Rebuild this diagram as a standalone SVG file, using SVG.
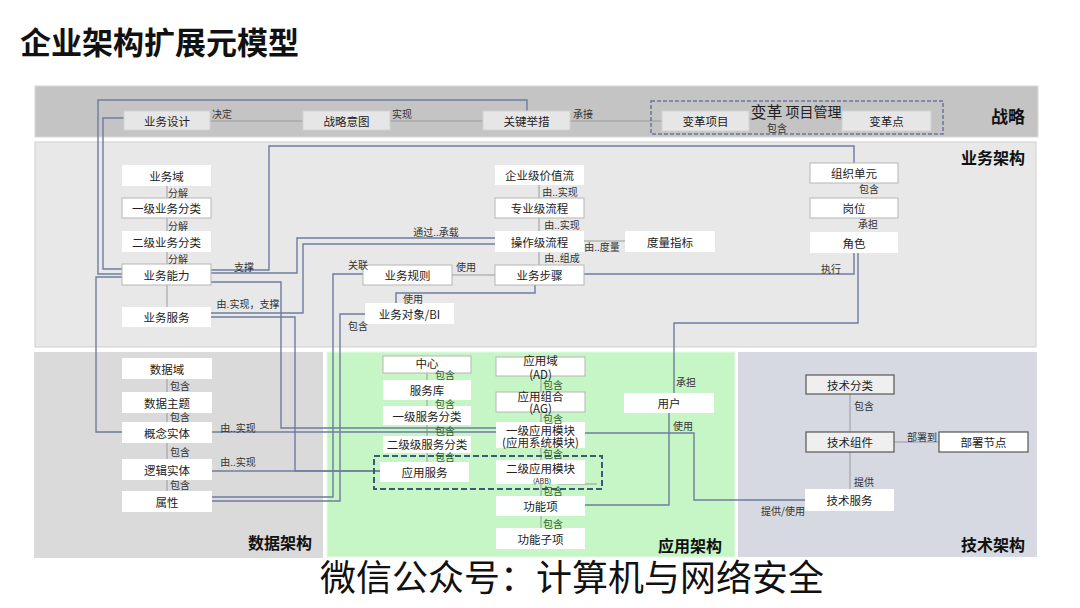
<svg xmlns="http://www.w3.org/2000/svg" width="1080" height="608" viewBox="0 0 1080 608">
<style>
text{font-family:"Noto Sans CJK SC","Noto Sans",sans-serif;fill:#222}
.t{font-size:11.5px;text-anchor:middle;dominant-baseline:central}
.l{font-size:10px;text-anchor:middle;dominant-baseline:central;fill:#333}
.g{font-size:10px;text-anchor:middle;dominant-baseline:central;fill:#2f5f2f}
.h{font-size:16px;font-weight:bold;text-anchor:end;dominant-baseline:central;fill:#111}
.sn{fill:#e6e6e6;stroke:#d2d2d2;stroke-width:1}
.w{fill:#fff}
.wb{fill:#fff;stroke:#b5b5b5;stroke-width:1}
.tb{fill:#efefef;stroke:#555;stroke-width:1.2}
.tw{fill:#fff;stroke:#555;stroke-width:1.2}
.gl{stroke:#9a9a9a;stroke-width:1;fill:none}
.c{stroke:#6f7ca0;stroke-width:1.4;fill:none}
</style>
<rect width="1080" height="608" fill="#fff"/>
<text x="20" y="54" style="font-size:31px;font-weight:bold;fill:#111">企业架构扩展元模型</text>

<!-- panels -->
<rect x="35" y="86" width="1003" height="51" fill="#c4c4c4" stroke="#d8d8d8"/>
<rect x="35" y="142" width="1001" height="205" fill="#e8e8e8" stroke="#cfcfcf"/>
<rect x="34" y="352" width="289" height="206" fill="#dadada"/>
<rect x="327" y="352" width="408" height="205" fill="#c6f5c6" stroke="#e6fbe6"/>
<rect x="738" y="352" width="299" height="205" fill="#d6d9e2"/>
<text class="h" x="1025" y="115" style="font-size:17px">战略</text>
<text class="h" x="1025" y="157">业务架构</text>
<text class="h" x="312" y="542">数据架构</text>
<text class="h" x="722" y="545">应用架构</text>
<text class="h" x="1025" y="544">技术架构</text>

<!-- gray links -->
<g id="links" class="gl">
<path d="M210,121H303M390,121H483M570,121H662M749,119H754M838,119H842"/>
<path d="M167,186V198M167,218V231M167,252V264M167,285V307"/>
<path d="M539,185V198M539,218V231M539,252V265"/>
<path d="M452,275H495M584,241H625"/>
<path d="M167,379V392M167,413V422M167,443V459M167,480V491"/>
<path d="M427,373V380M427,400V406M427,425V436M427,453V462"/>
<path d="M541,376V392M541,412V422M541,448V460M541,484V496M541,516V528"/>
<path d="M558,484H597"/>
<path d="M850,394V432M850,452V489M894,442H939"/>
</g>

<!-- connectors -->
<g id="connectors" class="c">
<path d="M527,111V100H98V274H122"/>
<path d="M124,118H103V269H122"/>
<path d="M122,277H96V432H122"/>
<path d="M211,270H269V146H854V163"/>
<path d="M211,273H297V238H495"/>
<path d="M211,282H281V428H496"/>
<path d="M211,313H303V244H495"/>
<path d="M211,317H295V471H380"/>
<path d="M584,274H854V253"/>
<path d="M858,253V323H674V393"/>
<path d="M363,274H333V497H212"/>
<path d="M365,314H340V501H212"/>
<path d="M535,285V293H396V303"/>
<path d="M212,432H496"/>
<path d="M212,471H380"/>
<path d="M669,413V505H585"/>
<path d="M585,433H694V500H805"/>
</g>

<!-- dashed groups -->
<rect x="651" y="101" width="292" height="33" fill="none" stroke="#6b7599" stroke-width="1.5" stroke-dasharray="4,2"/>
<rect x="374" y="456" width="228" height="33" fill="none" stroke="#3d5878" stroke-width="2" stroke-dasharray="6,3"/>

<!-- strategy nodes -->
<g id="n-ywsj"><rect class="sn" x="124" y="111" width="86" height="19"/><text class="t" x="167" y="120.5">业务设计</text></g>
<g id="n-zlyt"><rect class="sn" x="303" y="111" width="87" height="19"/><text class="t" x="346.5" y="120.5">战略意图</text></g>
<g id="n-gjjc"><rect class="sn" x="483" y="111" width="87" height="19"/><text class="t" x="526.5" y="120.5">关键举措</text></g>
<g id="n-bgxm"><rect class="sn" x="662" y="111" width="87" height="20"/><text class="t" x="705.5" y="121">变革项目</text></g>
<g id="n-bgd"><rect class="sn" x="842" y="111" width="89" height="20"/><text class="t" x="886.5" y="121">变革点</text></g>
<g id="n-bgxmgl"><text x="796" y="111" style="font-size:14px;text-anchor:middle;dominant-baseline:central"><tspan style="font-size:16px">变革</tspan> 项目管理</text></g>

<!-- business nodes -->
<g id="n-ywy"><rect class="w" x="122" y="165" width="89" height="21"/><text class="t" x="166.5" y="175.5">业务域</text></g>
<g id="n-yjywfl"><rect class="wb" x="122" y="198" width="89" height="20"/><text class="t" x="166.5" y="208">一级业务分类</text></g>
<g id="n-ejywfl"><rect class="w" x="122" y="231" width="89" height="21"/><text class="t" x="166.5" y="241.5">二级业务分类</text></g>
<g id="n-ywnl"><rect class="wb" x="122" y="264" width="89" height="21"/><text class="t" x="166.5" y="274.5">业务能力</text></g>
<g id="n-ywfw"><rect class="w" x="122" y="307" width="89" height="20"/><text class="t" x="166.5" y="317">业务服务</text></g>
<g id="n-qyjjzl"><rect class="w" x="495" y="165" width="89" height="20"/><text class="t" x="539.5" y="175">企业级价值流</text></g>
<g id="n-zyjlc"><rect class="wb" x="495" y="198" width="89" height="20"/><text class="t" x="539.5" y="208">专业级流程</text></g>
<g id="n-czjlc"><rect class="w" x="495" y="231" width="89" height="21"/><text class="t" x="539.5" y="241.5">操作级流程</text></g>
<g id="n-ywbz"><rect class="wb" x="495" y="265" width="89" height="20"/><text class="t" x="539.5" y="275">业务步骤</text></g>
<g id="n-dlzb"><rect class="w" x="625" y="231" width="90" height="21"/><text class="t" x="670" y="241.5">度量指标</text></g>
<g id="n-ywgz"><rect class="wb" x="363" y="265" width="89" height="20"/><text class="t" x="407.5" y="275">业务规则</text></g>
<g id="n-ywdx"><rect class="w" x="365" y="303" width="89" height="21"/><text class="t" x="409.5" y="313.5">业务对象/BI</text></g>
<g id="n-zzdy"><rect class="wb" x="810" y="163" width="88" height="20"/><text class="t" x="854" y="173">组织单元</text></g>
<g id="n-gw"><rect class="wb" x="810" y="198" width="88" height="20"/><text class="t" x="854" y="208">岗位</text></g>
<g id="n-js"><rect class="w" x="810" y="232" width="88" height="21"/><text class="t" x="854" y="242.5">角色</text></g>

<!-- data nodes -->
<g id="n-sjy"><rect class="w" x="122" y="358" width="90" height="21"/><text class="t" x="167" y="368.5">数据域</text></g>
<g id="n-sjzt"><rect class="w" x="122" y="392" width="90" height="21"/><text class="t" x="167" y="402.5">数据主题</text></g>
<g id="n-gnst"><rect class="w" x="122" y="422" width="90" height="21"/><text class="t" x="167" y="432.5">概念实体</text></g>
<g id="n-ljst"><rect class="w" x="122" y="459" width="90" height="21"/><text class="t" x="167" y="469.5">逻辑实体</text></g>
<g id="n-sx"><rect class="w" x="122" y="491" width="90" height="21"/><text class="t" x="167" y="501.5">属性</text></g>

<!-- application nodes -->
<g id="n-zx"><rect class="wb" x="383" y="356" width="88" height="17"/><text class="t" x="427" y="363">中心</text></g>
<g id="n-fwk"><rect class="w" x="383" y="380" width="88" height="20"/><text class="t" x="427" y="390">服务库</text></g>
<g id="n-yjfwfl"><rect class="w" x="383" y="406" width="88" height="19"/><text class="t" x="427" y="415.5">一级服务分类</text></g>
<g id="n-ejfwfl"><rect class="w" x="383" y="436" width="88" height="17"/><text class="t" x="427" y="444">二级级服务分类</text></g>
<g id="n-yyfw"><rect class="w" x="380" y="462" width="89" height="20"/><text class="t" x="424.5" y="472">应用服务</text></g>
<g id="n-yyy"><rect class="wb" x="496" y="357" width="89" height="19"/><text class="t" x="540.5" y="360">应用域</text><text class="t" x="540.5" y="373.5">(AD)</text></g>
<g id="n-yyzh"><rect class="wb" x="496" y="392" width="89" height="20"/><text class="t" x="540.5" y="396">应用组合</text><text class="t" x="540.5" y="408">(AG)</text></g>
<g id="n-yjyymk"><rect class="w" x="496" y="422" width="89" height="26"/><text class="t" x="540.5" y="430">一级应用模块</text><text class="t" x="540.5" y="442">(应用系统模块)</text></g>
<g id="n-ejyymk"><rect class="w" x="496" y="460" width="89" height="24"/><text class="t" x="540.5" y="468">二级应用模块</text><text class="t" x="542" y="481" style="font-size:7px">(ABB)</text></g>
<g id="n-gnx"><rect class="w" x="496" y="496" width="89" height="20"/><text class="t" x="540.5" y="506">功能项</text></g>
<g id="n-gnzx"><rect class="w" x="496" y="528" width="89" height="21"/><text class="t" x="540.5" y="538.5">功能子项</text></g>
<g id="n-yh"><rect class="w" x="624" y="393" width="90" height="20"/><text class="t" x="669" y="403">用户</text></g>

<!-- technology nodes -->
<g id="n-jsfl"><rect class="tb" x="806" y="375" width="88" height="19"/><text class="t" x="850" y="384.5">技术分类</text></g>
<g id="n-jszj"><rect class="tb" x="806" y="432" width="88" height="20"/><text class="t" x="850" y="442">技术组件</text></g>
<g id="n-bsjd"><rect class="tw" x="939" y="432" width="89" height="20"/><text class="t" x="983.5" y="442">部署节点</text></g>
<g id="n-jsfw"><rect class="w" x="805" y="489" width="89" height="22"/><text class="t" x="849.5" y="500">技术服务</text></g>

<!-- labels -->
<g id="labels">
<text class="l" x="222" y="113">决定</text>
<text class="l" x="402" y="113">实现</text>
<text class="l" x="583" y="113">承接</text>
<text class="l" x="777" y="127">包含</text>
<text class="l" x="178" y="192">分解</text>
<text class="l" x="178" y="225">分解</text>
<text class="l" x="178" y="258">分解</text>
<text class="l" x="244" y="266">支撑</text>
<text class="l" x="248" y="303">由.实现，支撑</text>
<text class="l" x="436" y="231">通过..承载</text>
<text class="l" x="358" y="264">关联</text>
<text class="l" x="466" y="266">使用</text>
<text class="l" x="413" y="298">使用</text>
<text class="l" x="358" y="325">包含</text>
<text class="l" x="560" y="191">由..实现</text>
<text class="l" x="562" y="224">由..实现</text>
<text class="l" x="562" y="257">由..组成</text>
<text class="l" x="602" y="246">由..度量</text>
<text class="l" x="869" y="188">包含</text>
<text class="l" x="868" y="223">承担</text>
<text class="l" x="831" y="268">执行</text>
<text class="l" x="180" y="385">包含</text>
<text class="l" x="180" y="416">包含</text>
<text class="l" x="180" y="451">包含</text>
<text class="l" x="180" y="484">包含</text>
<text class="l" x="238" y="427">由..实现</text>
<text class="l" x="238" y="461">由..实现</text>
<text class="g" x="445" y="374">包含</text>
<text class="g" x="445" y="403">包含</text>
<text class="g" x="445" y="430">包含</text>
<text class="g" x="445" y="456.5">包含</text>
<text class="g" x="553" y="384.5">包含</text>
<text class="g" x="553" y="418.5">包含</text>
<text class="g" x="553" y="453">包含</text>
<text class="g" x="553" y="490">包含</text>
<text class="g" x="553" y="523">包含</text>
<text class="l" x="686" y="381">承担</text>
<text class="l" x="683" y="425">使用</text>
<text class="l" x="864" y="405">包含</text>
<text class="l" x="864" y="481">提供</text>
<text class="l" x="922" y="436">部署到</text>
<text class="l" x="783" y="510">提供/使用</text>
</g>

<text x="572" y="591" style="font-size:36px;text-anchor:middle;fill:#111">微信公众号：计算机与网络安全</text>
</svg>
